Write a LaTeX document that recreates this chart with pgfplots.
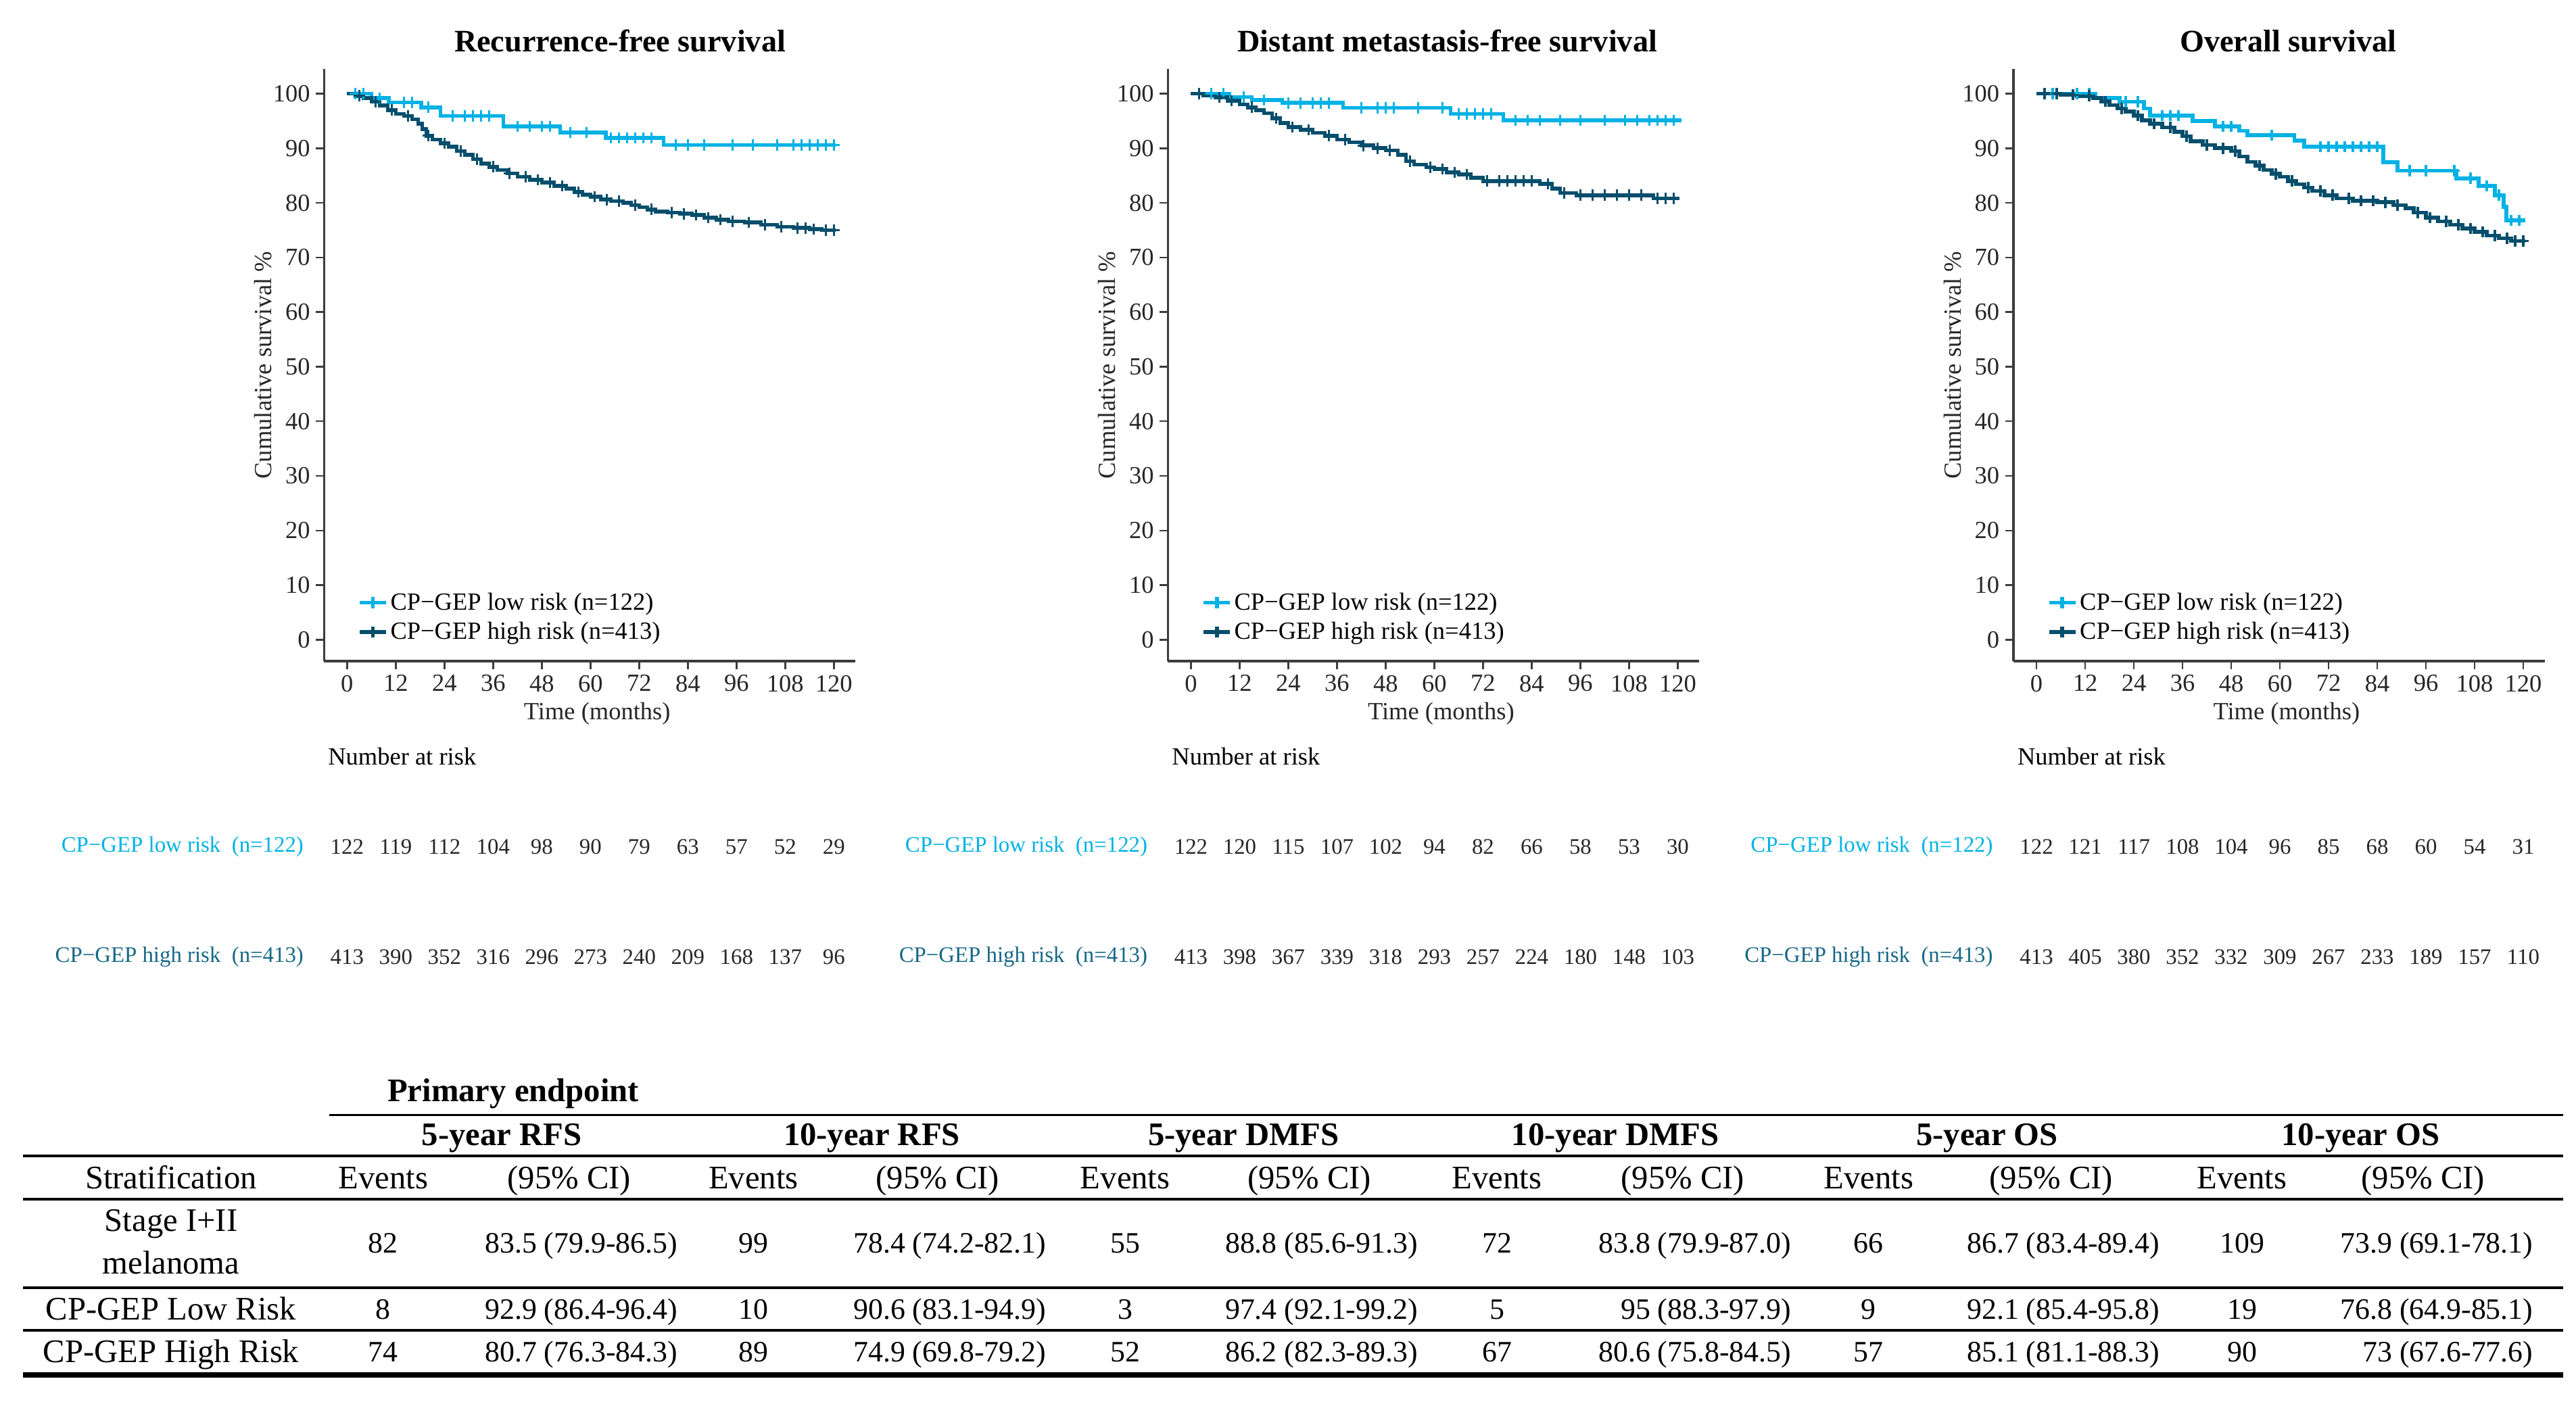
\documentclass[border=0pt]{standalone}
\usepackage{fontspec}
\setmainfont{Liberation Serif}
\usepackage{pgfplots}
\usepackage{pgfplotstable}
\pgfplotsset{compat=1.18}

\definecolor{lowc}{RGB}{0,178,228}
\definecolor{highc}{RGB}{5,78,108}
\definecolor{highlab}{RGB}{22,104,134}
\definecolor{axc}{RGB}{60,60,60}

\newcommand\fs[1]{\fontsize{#1}{#1}\selectfont}

% numbers at risk
\pgfplotstableread{
t   rfsl rfsh dmfsl dmfsh osl osh
0   122  413  122   413   122 413
12  119  390  120   398   121 405
24  112  352  115   367   117 380
36  104  316  107   339   108 352
48  98   296  102   318   104 332
60  90   273  94    293   96  309
72  79   240  82    257   85  267
84  63   209  66    224   68  233
96  57   168  58    180   60  189
108 52   137  53    148   54  157
120 29   96   30    103   31  110
}\risktab

\pgfplotsset{
  km/.style={
    scale only axis, width=323pt, height=360pt,
    xmin=-5.68, xmax=125.3, ymin=-3.92, ymax=104.5,
    axis lines=left, axis line style={-, line width=1.3pt, axc},
    xtick={0,12,...,120}, ytick={0,10,...,100},
    tick align=outside, major tick length=5pt,
    tick style={line width=1pt, axc},
    tick label style={font=\fs{15}, text=black!85},
    /pgf/number format/assume math mode=true,
    xlabel={Time (months)}, ylabel={Cumulative survival \%},
    label style={font=\fs{15}, text=black!85},
    xlabel style={at={(axis description cs:0.514,-0.089)}, anchor=center},
    ylabel style={at={(axis description cs:-0.115,0.5)}, anchor=center},
    clip=false,
    legend style={at={(axis description cs:0.06,0.025)}, anchor=south west,
      draw=none, fill=none, font=\fs{15}, row sep=3pt, inner sep=1pt,
      nodes={inner sep=1.5pt}},
    legend cell align=left,
    legend image code/.code={\draw[mark repeat=2,mark phase=2,##1]
      plot coordinates {(0pt,0pt) (8pt,0pt) (16pt,0pt)};},
  },
  lowline/.style={lowc, line width=2.3pt, const plot, forget plot},
  highline/.style={highc, line width=2.3pt, const plot, forget plot},
  lowcens/.style={lowc, only marks, mark=+, mark size=3.4pt, line width=1.3pt, forget plot},
  highcens/.style={highc, only marks, mark=+, mark size=3.4pt, line width=1.3pt, forget plot},
  risk/.style={draw=none, forget plot, nodes near coords, point meta=explicit symbolic,
    nodes near coords style={anchor=center, font=\fs{13.5}, text=black!85}},
}

\tikzset{
  num/.style={font=\fs{18}, text height=12pt, text depth=0pt, inner sep=0pt},
  wrd/.style={font=\fs{20}, text height=13.2pt, text depth=0pt, inner sep=0pt},
  hdr/.style={font=\bfseries\fs{20}, text height=13.2pt, text depth=0pt, inner sep=0pt},
}

\begin{document}
\begin{tikzpicture}
\path (0,0) rectangle (1566pt,853.3pt);

% ---------------- Recurrence-free survival
\begin{axis}[km, at={(197pt,451.3pt)}, anchor=south west]
\addlegendimage{lowc, line width=2.3pt, mark=+, mark size=3.4pt}
\addlegendentry{CP−GEP low risk (n=122)}
\addlegendimage{highc, line width=2.3pt, mark=+, mark size=3.4pt}
\addlegendentry{CP−GEP high risk (n=413)}
\addplot[lowline] coordinates {
(0,100) (6,99.2) (10.3,98.4) (18.3,97.5) (23,95.9) (38.5,94.0) (52.5,92.9)
(63.8,91.9) (78,90.6) (120.5,90.6)};
\addplot[lowcens] coordinates {
(2,100)(4,100)(8,99.2)(14,98.4)(16,98.4)(20,97.5)(26,95.9)(29,95.9)(31,95.9)
(33,95.9)(35,95.9)(42,94.0)(45,94.0)(48,94.0)(50,94.0)(55,92.9)(59,92.9)
(65,91.9)(67,91.9)(69,91.9)(71,91.9)(73,91.9)(75,91.9)(81,90.6)(84,90.6)
(88,90.6)(95,90.6)(100,90.6)(106,90.6)(110,90.6)(112,90.6)(114,90.6)
(116,90.6)(118,90.6)(120,90.6)};
\addplot[highline] coordinates {
(0,100)(2,99.6)(4,99.2)(6,98.5)(8,97.8)(10,97.0)(12,96.3)(14,95.9)(16,95.3)
(17.5,94.5)(18.5,93.5)(19.5,92.3)(21,91.6)(23,90.9)(25,90.3)(27,89.5)(29,88.8)
(31,88.0)(33,87.2)(35,86.6)(37,86.0)(39.5,85.4)(42,84.8)(45,84.2)(48,83.7)
(51,83.1)(54,82.6)(56,82.0)(58,81.5)(60,81.1)(62.5,80.6)(65,80.3)(68,80.0)
(70,79.6)(72,79.2)(74,78.8)(76,78.4)(79,78.2)(82,78.0)(85,77.8)(88,77.3)
(91,76.9)(94,76.6)(98,76.4)(102,76.0)(106,75.6)(110,75.4)(114,75.2)(117,75.0)
(120.5,75.0)};
\addplot[highcens] coordinates {
(3,99.6)(7,98.5)(11,97.0)(15,95.9)(20,92.3)(24,90.9)(28,89.5)(32,88.0)(36,86.6)
(40,85.4)(44,84.8)(47,84.2)(50,83.7)(53,83.1)(57,82.0)(61,81.1)(64,80.6)
(67,80.3)(71,79.6)(75,78.8)(80,78.2)(83,78.0)(86,77.8)(89,77.3)(92,76.9)
(95,76.6)(99,76.4)(103,76.0)(107,75.6)(111,75.4)(113,75.4)(115,75.2)(118,75.0)
(120,75.0)};
\addplot[risk] table[x=t, y expr=-37.95, meta=rfsl] {\risktab};
\addplot[risk] table[x=t, y expr=-58.1, meta=rfsh] {\risktab};
\node[font=\bfseries\fs{19}] at (axis description cs:0.557,1.047) {Recurrence-free survival};
\node[anchor=west, font=\fs{15}] at (axis cs:-6.1,-21.4) {Number at risk};
\node[anchor=east, font=\fs{13.5}, text=lowc] at (axis cs:-9.3,-37.95) {CP−GEP low risk\ \ (n=122)};
\node[anchor=east, font=\fs{13.5}, text=highlab] at (axis cs:-9.3,-58.1) {CP−GEP high risk\ \ (n=413)};
\end{axis}

% ---------------- Distant metastasis-free survival
\begin{axis}[km, at={(710pt,451.3pt)}, anchor=south west]
\addlegendimage{lowc, line width=2.3pt, mark=+, mark size=3.4pt}
\addlegendentry{CP−GEP low risk (n=122)}
\addlegendimage{highc, line width=2.3pt, mark=+, mark size=3.4pt}
\addlegendentry{CP−GEP high risk (n=413)}
\addplot[lowline] coordinates {
(0,100) (9.5,99.4) (15,98.8) (22.5,98.3) (37.5,97.4) (64,96.3) (77,95.1) (121,95.1)};
\addplot[lowcens] coordinates {
(2,100)(5,100)(8,100)(13,99.4)(18,98.8)(24,98.3)(27,98.3)(30,98.3)(32,98.3)
(34,98.3)(42,97.4)(46,97.4)(48,97.4)(50,97.4)(56,97.4)(62,97.4)(66,96.3)
(68,96.3)(70,96.3)(72,96.3)(74,96.3)(80,95.1)(83,95.1)(86,95.1)(91,95.1)
(96,95.1)(102,95.1)(107,95.1)(110,95.1)(113,95.1)(115,95.1)(117,95.1)(119,95.1)};
\addplot[highline] coordinates {
(0,100)(3,99.7)(6,99.3)(9,98.7)(12,98.0)(14,97.5)(16,97.0)(18,96.4)(20,95.5)
(22,94.6)(24,93.9)(27,93.4)(30,92.8)(33,92.3)(36,91.6)(39,91.1)(42,90.5)
(45,90.0)(48,89.6)(51,88.8)(53,87.6)(55,87.0)(58,86.5)(60,86.2)(63,85.6)
(66,85.2)(69,84.6)(72,84.0)(86,83.5)(89,82.6)(91,81.8)(95,81.4)(113,81.4)
(114,80.8)(120.5,80.8)};
\addplot[highcens] coordinates {
(2,100)(7,99.3)(10,98.7)(15,97.5)(21,95.5)(25,93.9)(29,93.4)(34,92.3)(38,91.6)
(42.5,90.5)(46,90.0)(49,89.6)(54,87.6)(59,86.5)(62,86.2)(65,85.6)(68,85.2)
(73,84.0)(76,84.0)(78,84.0)(80,84.0)(82,84.0)(84,84.0)(88,83.5)(92,81.8)
(96,81.4)(99,81.4)(102,81.4)(105,81.4)(108,81.4)(111,81.4)(115,80.8)(117,80.8)
(119,80.8)};
\addplot[risk] table[x=t, y expr=-37.95, meta=dmfsl] {\risktab};
\addplot[risk] table[x=t, y expr=-58.1, meta=dmfsh] {\risktab};
\node[font=\bfseries\fs{19}] at (axis description cs:0.526,1.047) {Distant metastasis-free survival};
\node[anchor=west, font=\fs{15}] at (axis cs:-6.1,-21.4) {Number at risk};
\node[anchor=east, font=\fs{13.5}, text=lowc] at (axis cs:-9.3,-37.95) {CP−GEP low risk\ \ (n=122)};
\node[anchor=east, font=\fs{13.5}, text=highlab] at (axis cs:-9.3,-58.1) {CP−GEP high risk\ \ (n=413)};
\end{axis}

% ---------------- Overall survival
\begin{axis}[km, at={(1224pt,451.3pt)}, anchor=south west]
\addlegendimage{lowc, line width=2.3pt, mark=+, mark size=3.4pt}
\addlegendentry{CP−GEP low risk (n=122)}
\addlegendimage{highc, line width=2.3pt, mark=+, mark size=3.4pt}
\addlegendentry{CP−GEP high risk (n=413)}
\addplot[lowline] coordinates {
(0,100)(14.5,99.2)(20.5,98.5)(26.5,97.3)(28,96.0)(38.5,95.0)(44,94.0)(50,93.2)
(52,92.4)(63.6,91.4)(66,90.3)(85.5,87.4)(89,85.9)(103.5,84.5)(109,83.1)
(113,81.4)(115.2,79.3)(115.8,76.8)(120.5,76.8)};
\addplot[lowcens] coordinates {
(2,100)(4,100)(10,100)(13,100)(22,98.5)(25,98.5)(31,96.0)(33,96.0)(35,96.0)
(46,94.0)(48,94.0)(58,92.4)(70,90.3)(72,90.3)(74,90.3)(76,90.3)(78,90.3)
(80,90.3)(82,90.3)(84,90.3)(92,85.9)(96,85.9)(103,85.9)(107,84.5)(111,83.1)
(114,81.4)(117,76.8)(119,76.8)};
\addplot[highline] coordinates {
(0,100)(6,99.8)(10,99.6)(14,99.2)(16,98.6)(18,97.9)(20,97.3)(22,96.7)(24,96.0)
(26,95.1)(28,94.5)(31,93.8)(34,93.0)(36,92.2)(38,91.3)(41,90.6)(44,90.0)
(48,89.5)(50,88.5)(52,87.5)(54,86.8)(56,86.0)(58,85.3)(60,84.8)(62,84.0)
(64,83.4)(66,82.8)(68,82.2)(71,81.4)(74,80.8)(78,80.4)(84,80.1)(88,79.6)
(91,79.0)(93,78.2)(96,77.3)(99,76.6)(102,76.0)(105,75.3)(108,74.7)(111,74.0)
(114,73.5)(117,73.0)(120.5,73.0)};
\addplot[highcens] coordinates {
(2,100)(5,100)(9,99.8)(13,99.6)(17,98.6)(21,97.3)(25,96.0)(29,94.5)(33,93.8)
(37,92.2)(42,90.6)(46,90.0)(49,89.5)(55,86.8)(59,85.3)(63,84.0)(67,82.8)
(70,82.2)(73,81.4)(77,80.8)(80,80.4)(83,80.4)(86,80.1)(89,79.6)(94,78.2)
(97,77.3)(101,76.6)(104,76.0)(107,75.3)(110,74.7)(113,74.0)(116,73.5)
(118,73.0)(120,73.0)};
\addplot[risk] table[x=t, y expr=-37.95, meta=osl] {\risktab};
\addplot[risk] table[x=t, y expr=-58.1, meta=osh] {\risktab};
\node[font=\bfseries\fs{19}] at (axis description cs:0.517,1.047) {Overall survival};
\node[anchor=west, font=\fs{15}] at (axis cs:-6.1,-21.4) {Number at risk};
\node[anchor=east, font=\fs{13.5}, text=lowc] at (axis cs:-9.3,-37.95) {CP−GEP low risk\ \ (n=122)};
\node[anchor=east, font=\fs{13.5}, text=highlab] at (axis cs:-9.3,-58.1) {CP−GEP high risk\ \ (n=413)};
\end{axis}

% ---------------- summary table
\node[hdr] at (312pt,190.3pt) {Primary endpoint};
\draw[line width=1.6pt] (200pt,175.3pt) -- (1558pt,175.3pt);
\foreach \x/\t in {305/5-year RFS,530/10-year RFS,756/5-year DMFS,982/10-year DMFS,1208/5-year OS,1435/10-year OS}
  \node[hdr] at (\x pt,163.3pt) {\t};
\draw[line width=1.6pt] (14pt,150.3pt) -- (1558pt,150.3pt);
\node[wrd] at (104pt,137.3pt) {Stratification};
\foreach \x in {233,458,684,910,1136,1363}
  \node[wrd] at (\x pt,137.3pt) {Events};
\foreach \x in {346,570,796,1023,1247,1473}
  \node[wrd] at (\x pt,137.3pt) {(95\% CI)};
\draw[line width=1.6pt] (14pt,124.3pt) -- (1558pt,124.3pt);

\node[wrd] at (104pt,111.3pt) {Stage I+II};
\node[wrd] at (104pt,85.3pt) {melanoma};
\foreach \x/\t in {233/82,458/99,684/55,910/72,1136/66,1363/109}
  \node[num] at (\x pt,97.3pt) {\t};
\foreach \x/\t in {412/83.5 (79.9-86.5),636/78.4 (74.2-82.1),862/88.8 (85.6-91.3),1089/83.8 (79.9-87.0),1313/86.7 (83.4-89.4),1540/73.9 (69.1-78.1)}
  \node[num, anchor=east] at (\x pt,97.3pt) {\t};
\draw[line width=1.6pt] (14pt,70.3pt) -- (1558pt,70.3pt);

\node[wrd] at (104pt,57.3pt) {CP-GEP Low Risk};
\foreach \x/\t in {233/8,458/10,684/3,910/5,1136/9,1363/19}
  \node[num] at (\x pt,57.3pt) {\t};
\foreach \x/\t in {412/92.9 (86.4-96.4),636/90.6 (83.1-94.9),862/97.4 (92.1-99.2),1089/95 (88.3-97.9),1313/92.1 (85.4-95.8),1540/76.8 (64.9-85.1)}
  \node[num, anchor=east] at (\x pt,57.3pt) {\t};
\draw[line width=1.6pt] (14pt,44.3pt) -- (1558pt,44.3pt);

\node[wrd] at (104pt,31.3pt) {CP-GEP High Risk};
\foreach \x/\t in {233/74,458/89,684/52,910/67,1136/57,1363/90}
  \node[num] at (\x pt,31.3pt) {\t};
\foreach \x/\t in {412/80.7 (76.3-84.3),636/74.9 (69.8-79.2),862/86.2 (82.3-89.3),1089/80.6 (75.8-84.5),1313/85.1 (81.1-88.3),1540/73 (67.6-77.6)}
  \node[num, anchor=east] at (\x pt,31.3pt) {\t};
\draw[line width=3pt] (14pt,17.3pt) -- (1558pt,17.3pt);
\end{tikzpicture}
\end{document}
